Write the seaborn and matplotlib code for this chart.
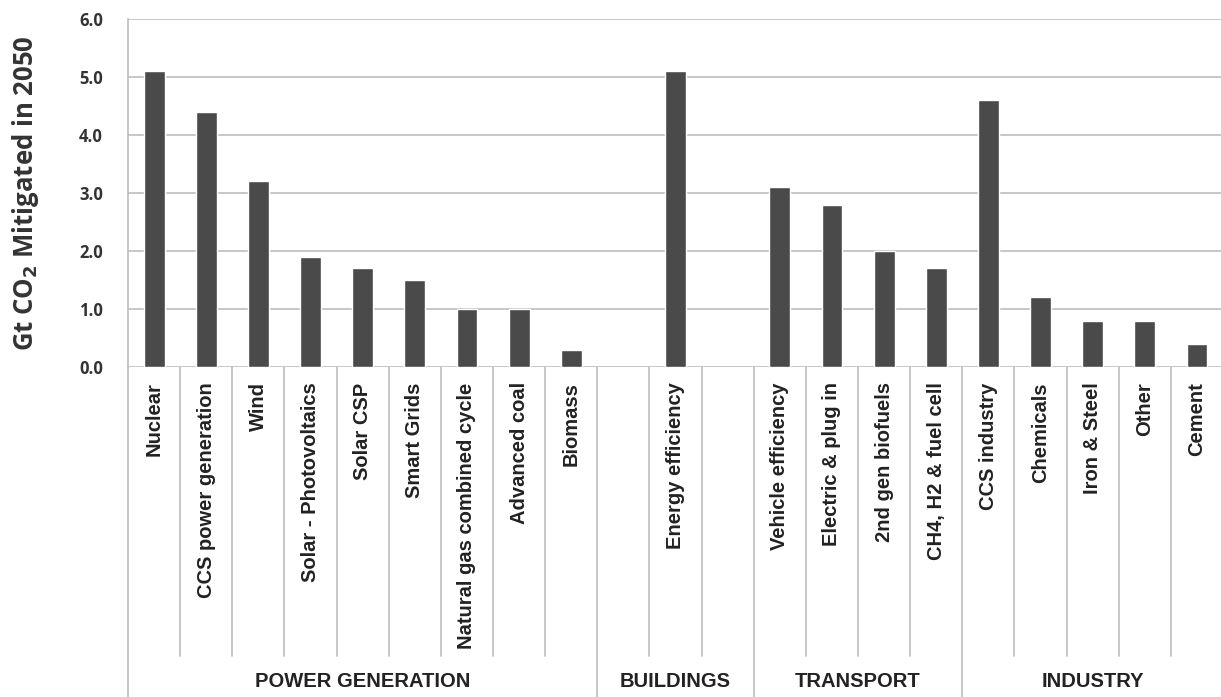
import pandas as pd
import matplotlib
matplotlib.use("Agg")
import matplotlib.pyplot as plt
import seaborn as sns

# Data
technologies = [
    "Nuclear", "CCS power generation", "Wind", "Solar - Photovoltaics",
    "Solar CSP", "Smart Grids", "Natural gas combined cycle", "Advanced coal",
    "Biomass", " ", "Energy efficiency", "  ", "Vehicle efficiency",
    "Electric & plug in", "2nd gen biofuels", "CH4, H2 & fuel cell",
    "CCS industry", "Chemicals", "Iron & Steel", "Other", "Cement",
]
mitigation = [
    5.1, 4.4, 3.2, 1.9, 1.7, 1.5, 1.0, 1.0, 0.3, None, 5.1, None,
    3.1, 2.8, 2.0, 1.7, 4.6, 1.2, 0.8, 0.8, 0.4,
]
sectors = ["POWER GENERATION", "BUILDINGS", "TRANSPORT", "INDUSTRY"]
sector_sizes = [9, 3, 4, 5]
y_ticks = [0, 1, 2, 3, 4, 5, 6]

df = pd.DataFrame({"Technology": technologies, "Gt": mitigation}).dropna()

sns.set_style("white")
plt.rcParams["font.family"] = ["Liberation Sans", "DejaVu Sans"]

grid_col = "#bdbdbd"
fig = plt.figure(figsize=(12.21, 6.97), dpi=100)
ax = fig.add_axes([128 / 1221, 330 / 697, 1095 / 1221, 348 / 697])

sns.barplot(data=df, x="Technology", y="Gt", order=technologies,
            color="#4a4a4a", width=0.4, saturation=1, ax=ax)

ax.set_ylim(0, 6)
ax.set_xlim(-0.5, len(technologies) - 0.5)
ax.set_yticks(y_ticks)
ax.set_yticklabels([f"{v:.1f}" for v in y_ticks], fontsize=12,
                   fontweight="bold", color="#333333", family=["Open Sans", "DejaVu Sans"])
ax.tick_params(axis="y", length=7, color=grid_col, pad=11)
ax.yaxis.grid(True, color=grid_col, linewidth=1.2)
ax.set_axisbelow(True)
for s in ["top", "right", "bottom"]:
    ax.spines[s].set_visible(False)
ax.spines["left"].set_color(grid_col)
ax.spines["left"].set_linewidth(1.2)

ax.set_xticks(range(len(technologies)))
ax.set_xticklabels(technologies, rotation=90, fontsize=14.5, fontweight="bold",
                   color="#222222", va="top", ha="center")
ax.tick_params(axis="x", length=0, pad=11)
ax.set_xlabel("")
ax.set_ylabel("Gt CO$_\\mathbf{2}$ Mitigated in 2050", fontsize=18.5,
              fontweight="bold", color="#333333", family=["Open Sans", "DejaVu Sans"])
ax.yaxis.set_label_coords(-0.079, 0.5)

# separators below the axis
trans = ax.get_xaxis_transform()
bounds = [0]
for n in sector_sizes:
    bounds.append(bounds[-1] + n)
for i in range(1, len(technologies) + 1):
    bottom = -0.95 if i in bounds else -0.83
    ax.plot([i - 0.5, i - 0.5], [0, bottom], transform=trans, color=grid_col,
            linewidth=1.2, clip_on=False)
ax.plot([-0.5, -0.5], [0, -0.95], transform=trans, color=grid_col,
        linewidth=1.2, clip_on=False)

for name, start, end in zip(sectors, bounds[:-1], bounds[1:]):
    ax.text((start + end - 1) / 2, -0.905, name, transform=trans, ha="center",
            va="center", fontsize=14.5, fontweight="bold", color="#222222")

fig.savefig("out.png", dpi=100)
